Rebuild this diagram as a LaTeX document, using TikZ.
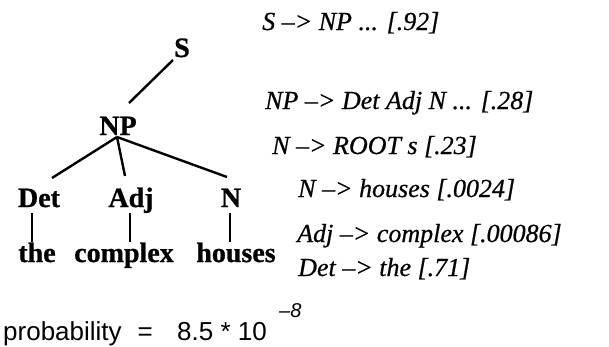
\documentclass[tikz,border=0pt]{standalone}
\usepackage{fontspec}
\setmainfont{Liberation Serif}
\newfontfamily\arialfont{Liberation Sans}
\newfontfamily\treefont{Liberation Serif}[BoldFeatures={FakeBold=0.8}]
\newfontfamily\rulefont{Liberation Serif}[ItalicFeatures={FakeBold=0.6}]
\usetikzlibrary{calc}
\tikzset{
  treelabel/.style={inner sep=0pt, font=\treefont\fontsize{28}{28}\selectfont\bfseries, anchor=base},
  rule/.style={inner sep=0pt, font=\rulefont\fontsize{26}{26}\selectfont\itshape, anchor=base west},
  edge/.style={line width=2.4pt},
}
\begin{document}
\begin{tikzpicture}[x=1pt,y=-1pt]
\useasboundingbox (0,0) rectangle (609,346);
% tree
\node[treelabel] (S) at (182,57) {S};
\node[treelabel] (NP) at (118,135) {NP};
\node[treelabel] (Det) at (39,207) {Det};
\node[treelabel] (Adj) at (131,207) {Adj};
\node[treelabel] (N) at (231,207) {N};
\node[treelabel] (the) at (37,262) {the};
\node[treelabel] (complex) at (124,262) {complex};
\node[treelabel] (houses) at (236,262) {houses};
\draw[edge] ($(S.base)+(-9,3)$) -- ($(NP.base)+(11,-32)$);
\draw[edge] ($(NP.base)+(-1,2)$) -- ($(Det.base)+(13,-29)$);
\draw[edge] ($(NP.base)+(-1,2)$) -- ($(Adj.base)+(-6,-31)$);
\draw[edge] ($(NP.base)+(-1,2)$) -- ($(N.base)+(-4,-30)$);
\draw[edge] ($(Det.base)+(-7,6)$) -- ($(the.base)+(-5,-20)$);
\draw[edge] ($(Adj.base)+(-1,6)$) -- ($(complex.base)+(6,-20)$);
\draw[edge] ($(N.base)+(-1,6)$) -- ($(houses.base)+(-6,-20)$);
% rules
\node[rule] (r1) at (262,30) {S \textendash> NP ... [.92]};
\node[rule] (r2) at (265,109) {NP \textendash> Det Adj N ... [.28]};
\node[rule] (r3) at (272,154) {N \textendash> ROOT s [.23]};
\node[rule] (r4) at (298,197) {N \textendash> houses [.0024]};
\node[rule] (r5) at (297,242) {Adj \textendash> complex [.00086]};
\node[rule] (r6) at (298,276) {Det \textendash> the [.71]};
% probability
\node[inner sep=0pt, anchor=base west, font=\arialfont\fontsize{26}{26}\selectfont] (prob) at (3,340) {probability\hspace{16pt}=};
\node[inner sep=0pt, anchor=base east, font=\arialfont\fontsize{26}{26}\selectfont] (val) at (267,340) {8.5 * 10};
\node[inner sep=0pt, anchor=base west, font=\arialfont\fontsize{20}{20}\selectfont\itshape] (exp) at (279,317) {\textendash8};
\end{tikzpicture}
\end{document}
